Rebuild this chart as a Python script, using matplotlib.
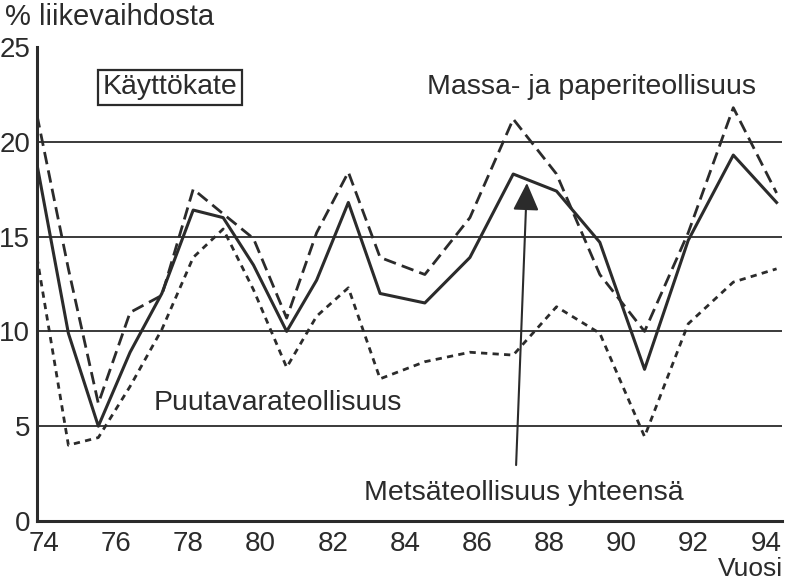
import matplotlib.pyplot as plt

plt.rcParams['font.family'] = ['Liberation Sans', 'DejaVu Sans']
plt.rcParams['lines.scale_dashes'] = False

INK = '#2b2b2b'

# plotted position of each yearly observation, 1974-1994
vuosi = [73.8, 74.67, 75.5, 76.38, 77.26, 78.13, 78.96, 79.8, 80.72, 81.55,
         82.43, 83.31, 84.55, 85.8, 87.0, 88.2, 89.4, 90.64, 91.85, 93.1, 94.3]

# käyttökate, % liikevaihdosta
metsa = [18.8, 9.9, 5.0, 8.9, 12.0, 16.4, 16.0, 13.5, 10.0, 12.7,
         16.8, 12.0, 11.5, 13.9, 18.3, 17.4, 14.7, 8.0, 14.8, 19.3, 16.8]
massa = [21.4, 13.3, 6.2, 11.0, 11.9, 17.5, 16.2, 14.9, 10.7, 15.2,
         18.4, 13.9, 13.0, 16.0, 21.2, 18.3, 13.0, 10.0, 15.2, 21.8, 17.3]
puu = [13.9, 4.0, 4.4, 7.1, 10.1, 13.9, 15.4, 12.2, 8.1, 10.8,
       12.3, 7.5, 8.4, 8.9, 8.75, 11.3, 9.9, 4.45, 10.4, 12.6, 13.3]

x_ticks = list(range(74, 95, 2))
y_ticks = [0, 5, 10, 15, 20, 25]

fig = plt.figure(figsize=(7.88, 5.86), dpi=100)
ax = fig.add_axes([37 / 788, 1 - 521 / 586, 745 / 788, 474 / 586])

for yv in y_ticks[1:-1]:
    ax.axhline(yv, color='#3a3a3a', lw=1.4, zorder=1)

ax.plot(vuosi, massa, color=INK, lw=2.0, dashes=(9, 4.5), zorder=3)
ax.plot(vuosi, puu, color=INK, lw=2.0, dashes=(4.5, 3.8), zorder=3)
ax.plot(vuosi, metsa, color=INK, lw=2.2, zorder=4)

ax.set_xlim(73.8, 94.45)
ax.set_ylim(0, 25)
ax.set_xticks(x_ticks)
ax.set_xticklabels([str(v) for v in x_ticks])
ax.set_yticks(y_ticks)
ax.tick_params(length=0, labelsize=20, colors=INK)
ax.tick_params(axis='x', pad=7)
ax.tick_params(axis='y', pad=5)

for side in ('top', 'right'):
    ax.spines[side].set_visible(False)
for side in ('left', 'bottom'):
    ax.spines[side].set_color(INK)
    ax.spines[side].set_linewidth(2.2)

label_size = 20.5
ax.text(0.1785, 0.915, 'Käyttökate', transform=ax.transAxes,
        fontsize=label_size, color=INK, ha='center', va='center',
        bbox=dict(boxstyle='square,pad=0.15', fc='white', ec=INK, lw=1.6))
ax.text(0.744, 0.916, 'Massa- ja paperiteollisuus', transform=ax.transAxes,
        fontsize=label_size, color=INK, ha='center', va='center')
ax.text(0.323, 0.249, 'Puutavarateollisuus', transform=ax.transAxes,
        fontsize=label_size, color=INK, ha='center', va='center')
ax.text(0.653, 0.059, 'Metsäteollisuus yhteensä', transform=ax.transAxes,
        fontsize=label_size, color=INK, ha='center', va='center')

ax.annotate('', xy=(87.38, 17.83), xytext=(87.08, 2.95),
            arrowprops=dict(arrowstyle='-|>,head_length=0.85,head_width=0.4',
                            mutation_scale=20, lw=1.5, color=INK,
                            shrinkA=0, shrinkB=0), zorder=5)

fig.text(5 / 788, 1 - 17 / 586, '% liikevaihdosta', fontsize=21, color=INK,
         ha='left', va='center')
fig.text(783 / 788, 1 - 569 / 586, 'Vuosi', fontsize=19, color=INK,
         ha='right', va='center')

fig.savefig('out.png', dpi=100)
